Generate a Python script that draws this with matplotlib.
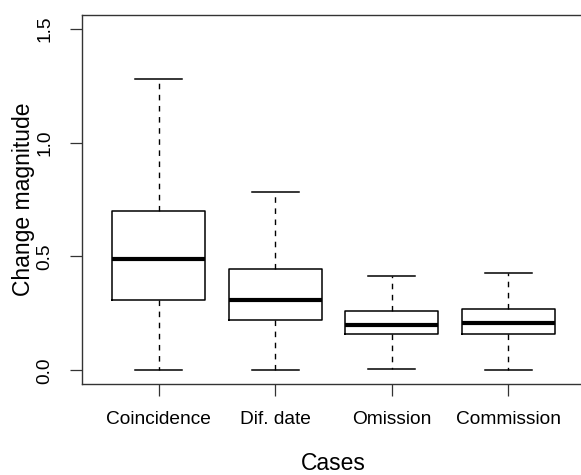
import matplotlib
matplotlib.use("Agg")
import matplotlib.pyplot as plt

plt.rcParams['font.family'] = ['Liberation Sans', 'DejaVu Sans']

cases = ["Coincidence", "Dif. date", "Omission", "Commission"]
whisker_low = [0.0, 0.0, 0.007, 0.002]
q1 = [0.310, 0.219, 0.160, 0.160]
median = [0.487, 0.310, 0.201, 0.207]
q3 = [0.698, 0.443, 0.261, 0.269]
whisker_high = [1.278, 0.782, 0.415, 0.427]

stats = []
for i in range(len(cases)):
    stats.append({
        "label": cases[i],
        "whislo": whisker_low[i],
        "q1": q1[i],
        "med": median[i],
        "q3": q3[i],
        "whishi": whisker_high[i],
        "fliers": [],
    })

fig = plt.figure(figsize=(5.81, 4.75), dpi=100)
ax = fig.add_axes([81.5 / 581, 91 / 475, 504 / 581, 369 / 475])

ax.bxp(stats, positions=[1, 2, 3, 4], widths=0.8, showfliers=False,
       boxprops=dict(color="black", linewidth=1.1),
       medianprops=dict(color="black", linewidth=3, solid_capstyle="butt"),
       whiskerprops=dict(color="black", linewidth=1.0, linestyle=(0, (4, 4))),
       capprops=dict(color="black", linewidth=1.1),
       capwidths=0.4)

ax.set_xlim(0.34, 4.66)
ax.set_ylim(-0.06, 1.56)
ax.set_yticks([0.0, 0.5, 1.0, 1.5])
ax.set_yticklabels(["0.0", "0.5", "1.0", "1.5"], rotation=90, va="center")
ax.set_xticks([1, 2, 3, 4])
ax.set_xticklabels(cases)

ax.tick_params(axis="both", labelsize=13.8, length=8.5, width=0.9, color="#333333")
ax.tick_params(axis="y", pad=12)
ax.tick_params(axis="x", pad=11)

for sp in ax.spines.values():
    sp.set_linewidth(1.0)
    sp.set_color("#333333")

ax.set_xlabel("Cases", fontsize=16.5)
ax.set_ylabel("Change magnitude", fontsize=16.5)
ax.xaxis.set_label_coords(0.5, -0.185)
ax.yaxis.set_label_coords(-0.093, 0.5)

fig.savefig("out.png", dpi=100)
